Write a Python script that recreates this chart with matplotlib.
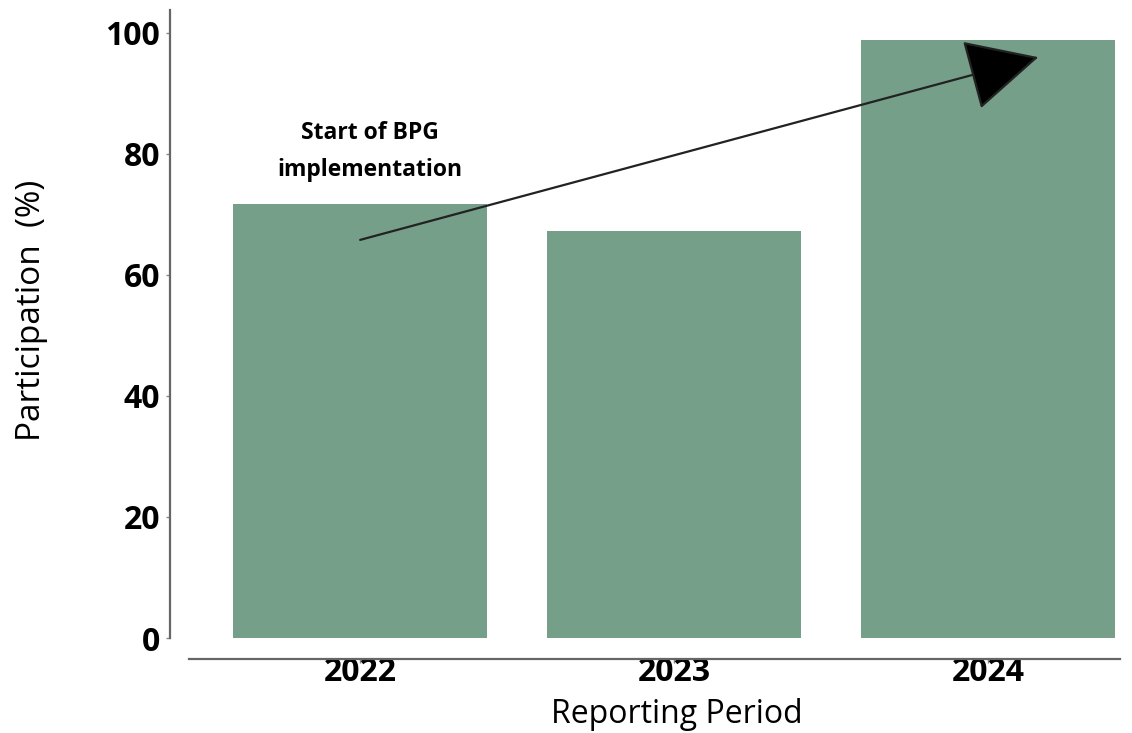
import matplotlib
matplotlib.use("Agg")
import matplotlib.pyplot as plt
from matplotlib.patches import FancyArrowPatch

periods = ["2022", "2023", "2024"]
participation = [71.7, 67.3, 98.8]
yticks = [0, 20, 40, 60, 80, 100]

plt.rcParams['font.family'] = ['Open Sans', 'DejaVu Sans']

fig = plt.figure(figsize=(11.32, 7.33), dpi=100)
ax = fig.add_axes([0.167, 0.1296, 0.8224, 0.8568])

x = list(range(len(periods)))
ax.bar(x, participation, width=0.81, color="#769f8a", edgecolor="none")

ax.set_xlim(-0.545, 2.42)
ax.set_ylim(0, 103.8)
ax.set_xticks(x)
ax.set_xticklabels(periods)
ax.set_yticks(yticks)
ax.set_yticklabels([str(v) for v in yticks])

for s in ['top', 'right']:
    ax.spines[s].set_visible(False)
ax.spines['left'].set_position(('outward', 14))
ax.spines['bottom'].set_position(('outward', 15))
for s in ['left', 'bottom']:
    ax.spines[s].set_color('#666666')
    ax.spines[s].set_linewidth(1.6)
ax.tick_params(axis='both', colors='#888888', length=3, width=1,
               labelcolor='black', labelsize=23)
ax.tick_params(axis='y', pad=4)
ax.tick_params(axis='x', pad=-5)
for lab in ax.get_xticklabels() + ax.get_yticklabels():
    lab.set_fontweight('bold')

ax.set_xlabel("Reporting Period", fontsize=23)
ax.set_ylabel("Participation  (%)", fontsize=24)
ax.yaxis.set_label_coords((48 - 189) / 931, (638 - 310.5) / 628)
ax.xaxis.set_label_coords((677 - 189) / 931, (638 - 698) / 628)

ax.text(0.03, 80.4, "Start of BPG\nimplementation", ha='center', va='center',
        fontsize=16.5, fontweight='bold', linespacing=1.75)

arrow = FancyArrowPatch((0.0, 65.8), (2.16, 96.0),
                        arrowstyle='-|>,head_length=2.6,head_width=1.3',
                        mutation_scale=18, color='#222222', linewidth=1.6,
                        shrinkA=0, shrinkB=0)
arrow.set_facecolor('black')
ax.add_patch(arrow)

fig.savefig("out.png", dpi=100)
